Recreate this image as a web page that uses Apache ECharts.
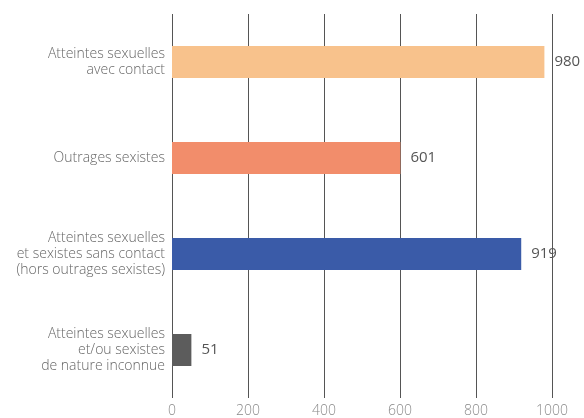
<!DOCTYPE html>
<html><head><meta charset="utf-8">
<script src="https://cdn.jsdelivr.net/npm/echarts@6/dist/echarts.min.js"></script>
<style>html,body{margin:0;padding:0;background:#fff}#c{width:584px;height:418px}</style>
</head><body><div id="c"></div>
<script>
const categories = [
  "Atteintes sexuelles\navec contact",
  "Outrages sexistes",
  "Atteintes sexuelles\net sexistes sans contact\n(hors outrages sexistes)",
  "Atteintes sexuelles\net/ou sexistes\nde nature inconnue"
];
const values = [980, 601, 919, 51];
const colors = ["#F8C28C", "#F28D6B", "#3A5BA8", "#5C5C5C"];
const ticks = [0, 200, 400, 600, 800, 1000];

const chart = echarts.init(document.getElementById('c'), null, {renderer: 'canvas'});
chart.setOption({
  animation: false,
  grid: {left: 172, right: 32, top: 14, bottom: 20, containLabel: false},
  xAxis: {
    type: 'value', min: ticks[0], max: ticks[ticks.length - 1], interval: 200,
    axisLine: {show: false}, axisTick: {show: false},
    splitLine: {show: true, lineStyle: {color: '#555', width: 1}},
    axisLabel: {color: '#8a8a8a', fontFamily: 'Open Sans', fontWeight: 300, fontSize: 14, margin: 6,
      formatter: v => String(v)}
  },
  yAxis: {
    type: 'category', data: categories, inverse: true,
    axisLine: {show: false}, axisTick: {show: false},
    axisLabel: {color: '#666', fontFamily: 'Open Sans', fontWeight: 300, fontSize: 14, lineHeight: 16, margin: 7, align: 'right'}
  },
  series: [{
    type: 'bar', barWidth: 32,
    data: values.map((v, i) => ({value: v, itemStyle: {color: colors[i]}})),
    label: {show: true, position: 'right', distance: 10, color: '#555', fontFamily: 'Open Sans', fontSize: 15}
  }]
});
</script></body></html>
